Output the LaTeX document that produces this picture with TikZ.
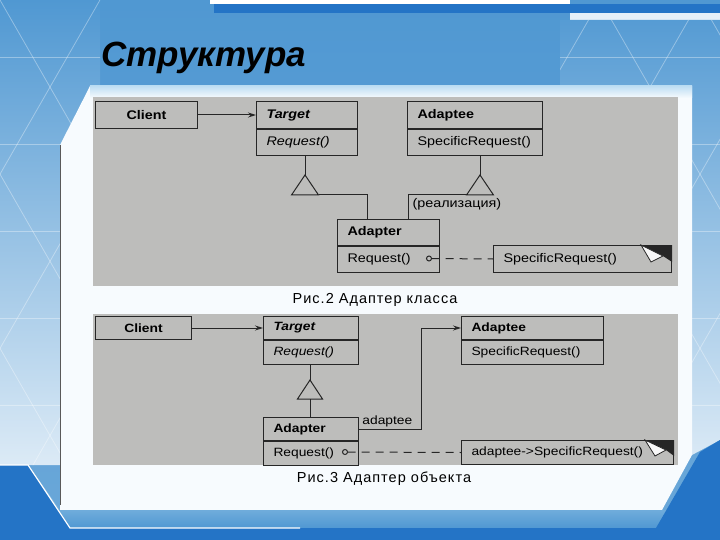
\documentclass[tikz,border=0pt]{standalone}
\usepackage{fontspec}
\setmainfont{Liberation Sans}
\newfontfamily\umlfont[FakeStretch=1.15]{Liberation Sans}
\newfontfamily\capfont[LetterSpace=7]{Liberation Sans}
\usetikzlibrary{arrows.meta, positioning}
\definecolor{slideblue}{RGB}{80,152,210}
\definecolor{deepblue}{RGB}{36,116,198}
\definecolor{paleblue}{RGB}{190,222,243}
\definecolor{panelwhite}{RGB}{247,251,254}
\definecolor{scangray}{RGB}{189,189,187}
\definecolor{ink}{RGB}{38,38,38}

\begin{document}
\begin{tikzpicture}[x=1pt, y=-1pt, >={Stealth[length=8pt,width=5pt]},
  cls/.style={draw=ink, line width=1pt, fill=scangray, anchor=north west,
    inner xsep=10pt, inner ysep=0pt, align=left, text width=#1},
  ctr/.style={align=center},
  gen/.style={draw=ink, line width=1pt, fill=scangray, line join=miter},
  link/.style={draw=ink, line width=1pt},
  dep/.style={draw=ink, line width=1pt, dash pattern=on 8pt off 6pt},
  tri/.style={white, opacity=.35, line width=.8pt}]
  \useasboundingbox (0,0) rectangle (720,540);

  % slide background
  \shade[top color=slideblue, bottom color=slideblue!85!white] (0,0) rectangle (720,540);
  \fill[white] (210,0) rectangle (570,4);
  \fill[deepblue] (214,4) rectangle (720,13);
  \fill[white!85!slideblue] (570,13) rectangle (720,20);
  \begin{scope}
    \clip (0,0) -- (100,0) -- (100,86) -- (90,86) -- (60,145) -- (60,465) -- (0,465) -- cycle
          (560,20) -- (720,20) -- (720,440) -- (692,455) -- (692,86) -- (560,86) -- cycle;
    \shade[top color=slideblue, bottom color=white!80!slideblue] (0,0) rectangle (720,465);
    \foreach \y in {-30,57,144,231,318,405}
      \draw[tri] (0,\y) -- (720,\y);
    \foreach \x in {-600,-500,...,900} {
      \draw[tri] (\x,0) -- ++(310,540);
      \draw[tri] (\x,0) -- ++(-310,540);
    }
  \end{scope}
  % content panel
  \fill[panelwhite] (90,86) -- (692,86) -- (692,455) -- (662,510) -- (60,510) -- (60,145) -- cycle;
  \shade[top color=paleblue, bottom color=panelwhite] (90,86) rectangle (692,98);
  \draw[line width=.6pt, black!65] (60,145) -- (60,505);
  \shade[top color=paleblue, bottom color=slideblue] (28,465) -- (60,510) -- (720,510) -- (720,528) -- (70,528) -- cycle;
  \fill[deepblue] (0,465) -- (28,465) -- (70,528) -- (720,528) -- (720,540) -- (0,540) -- cycle;
  \fill[deepblue] (720,440) -- (720,528) -- (656,528) -- (700,452) -- cycle;
  \draw[white, line width=1.2pt] (0,465) -- (28,465) -- (70,528) -- (300,528);

  % title
  \node[font=\fontsize{35}{38}\selectfont\bfseries\itshape, anchor=west] (title) at (98,58) {Структура};

  % class adapter
  \fill[scangray] (93,97) rectangle (678,286);
  \begin{scope}[font=\umlfont\fontsize{12.5}{14}\selectfont]
    \node[cls=82pt, ctr, minimum height=27pt] (client1) at (95,101) {\bfseries Client};
    \node[cls=81pt, minimum height=27pt] (target1) at (256,101) {\bfseries\itshape Target};
    \node[cls=81pt, minimum height=26pt] (target1op) at (target1.south west) {\itshape Request()};
    \node[cls=115pt, minimum height=27pt] (adaptee1) at (407,101) {\bfseries Adaptee};
    \node[cls=115pt, minimum height=26pt] (adaptee1op) at (adaptee1.south west) {SpecificRequest()};
    \node[cls=82pt, minimum height=26pt] (adapter1) at (337,219) {\bfseries Adapter};
    \node[cls=82pt, minimum height=26pt] (adapter1op) at (adapter1.south west) {Request()};
    \node[cls=158pt, minimum height=27pt] (note1) at (493,245) {SpecificRequest()};
    \node[anchor=west] (impl) at (409,204) {(реализация)};
  \end{scope}
  \draw[->, link] (client1) -- (target1);
  % inheritance
  \coordinate (g1) at (305,175);
  \coordinate (g2) at (480,175);
  \draw[link] (target1op.south -| g1) -- (g1);
  \draw[link] (adaptee1op.south -| g2) -- (g2);
  \draw[gen] (g1) -- ++(-13.5,20) -- ++(27,0) -- cycle;
  \draw[gen] (g2) -- ++(-13.5,20) -- ++(27,0) -- cycle;
  \draw[link] (318.5,195) -| ([xshift=30pt]adapter1.north west);
  \draw[link] (466.5,195) -| ([xshift=-32pt]adapter1.north east);
  % implementation note
  \coordinate (op1) at (429,258.5);
  \draw[link, fill=scangray] (op1) circle (2.5pt);
  \draw[dep] ([xshift=2.5pt]op1) -- (note1.west);
  \begin{scope}[shift={(note1.north east)}]
    \fill[ink] (-31,0) -- (0,0) -- (0,17) -- (-9,11) -- cycle;
    \draw[ink, line width=.8pt, fill=white!90!scangray] (-31,0) -- (-9,11) -- (-21,17) -- cycle;
  \end{scope}
  \node[font=\capfont\fontsize{14.5}{16}\selectfont] (cap1) at (375,300) {Рис.2 Адаптер класса};

  % object adapter
  \fill[scangray] (93,314) rectangle (678,465);
  \begin{scope}[font=\umlfont\fontsize{12}{14}\selectfont]
    \node[cls=76pt, ctr, minimum height=23pt] (client2) at (95,316) {\bfseries Client};
    \node[cls=75pt, minimum height=23pt] (target2) at (263,316) {\bfseries\itshape Target};
    \node[cls=75pt, minimum height=24pt] (target2op) at (target2.south west) {\itshape Request()};
    \node[cls=122pt, minimum height=23pt] (adaptee2) at (461,316) {\bfseries Adaptee};
    \node[cls=122pt, minimum height=24pt] (adaptee2op) at (adaptee2.south west) {SpecificRequest()};
    \node[cls=75pt, minimum height=23pt] (adapter2) at (263,417) {\bfseries Adapter};
    \node[cls=75pt, minimum height=24pt] (adapter2op) at (adapter2.south west) {Request()};
    \node[cls=192pt, minimum height=24pt] (note2) at (461,440) {adaptee->SpecificRequest()};
  \end{scope}
  \draw[->, link] (client2) -- (target2);
  % inheritance
  \coordinate (g3) at (310,380);
  \draw[link] (target2op.south -| g3) -- (g3);
  \draw[gen] (g3) -- ++(-12.5,19) -- ++(25,0) -- cycle;
  \draw[link] (310,399) -- (adapter2.north -| g3);
  % association
  \draw[->, link] (adapter2.east) -- ++(62,0)
    node[pos=.9, above left, inner sep=2pt, font=\umlfont\fontsize{12}{14}\selectfont] {adaptee}
    |- (adaptee2.west);
  \coordinate (op2) at (345,452);
  \draw[link, fill=scangray] (op2) circle (2.5pt);
  \draw[dep] ([xshift=2.5pt]op2) -- (note2.west);
  \begin{scope}[shift={(note2.north east)}]
    \fill[ink] (-29,0) -- (0,0) -- (0,16) -- (-8,10) -- cycle;
    \draw[ink, line width=.8pt, fill=white!90!scangray] (-29,0) -- (-8,10) -- (-19,16) -- cycle;
  \end{scope}
  \node[font=\capfont\fontsize{14.5}{16}\selectfont] (cap2) at (384,479) {Рис.3 Адаптер объекта};
\end{tikzpicture}
\end{document}
